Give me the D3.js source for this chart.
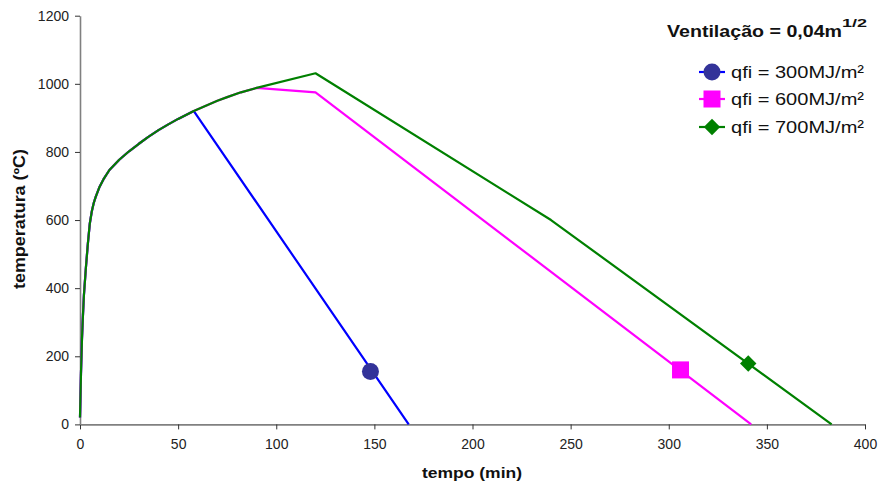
<!DOCTYPE html>
<html><head><meta charset="utf-8">
<script src="https://cdn.jsdelivr.net/npm/d3@7"></script>
<style>
body{margin:0;background:#fff;}
text{font-family:Arial,"Liberation Sans",sans-serif;}
</style></head>
<body><svg id="c" width="879" height="489"></svg>
<script>
// heating phase (shared by all series)
const heatTime = [0,0.5,1,1.5,2,3,4,5,6,7,8,10,12,15,20,25,30,35,40,45,50,58,65,70,75,82,90];
const heatTemp = [20,150,250,320,380,460,530,590,625,650,668,698,720,747,777,802,824,845,864,881,897,920,938,950,961,975,988];
// cooling phases
const blueTime = [167.5];          const blueTemp = [0];
const magentaTime = [120, 342];    const magentaTemp = [975, 0];
const greenTime = [120, 240, 383]; const greenTemp = [1031, 600, 0];
const branchAt = [58, 90, 90];
// marker points
const markerTime = [148, 306, 340.5];
const markerTemp = [155, 160, 179];
const seriesNames = ["qfi = 300MJ/m²","qfi = 600MJ/m²","qfi = 700MJ/m²"];
const xTicks = [0,50,100,150,200,250,300,350,400];
const yTicks = [0,200,400,600,800,1000,1200];

const lineColors = ["#0000FF","#FF00FF","#008000"];
const markColors = ["#333399","#FF00FF","#008000"];

const svg = d3.select("#c");
const x = d3.scaleLinear().domain([0,400]).range([80,865]);
const y = d3.scaleLinear().domain([0,1200]).range([424.4,15.7]);

function build(bt, tt, tv){
  const pts = [];
  heatTime.forEach((t,i)=>{ if(t<=bt) pts.push([t,heatTemp[i]]); });
  tt.forEach((t,i)=>pts.push([t,tv[i]]));
  return pts;
}
const series = [
  build(branchAt[0], blueTime, blueTemp),
  build(branchAt[1], magentaTime, magentaTemp),
  build(branchAt[2], greenTime, greenTemp)
];

function marker(g, i, cx, cy){
  if(i===0) g.append("circle").attr("cx",cx).attr("cy",cy).attr("r",8.5).attr("fill",markColors[i]);
  else if(i===1) g.append("rect").attr("x",cx-8.5).attr("y",cy-8.5).attr("width",17).attr("height",17).attr("fill",markColors[i]);
  else g.append("rect").attr("x",-5.8).attr("y",-5.8).attr("width",11.6).attr("height",11.6)
        .attr("transform",`translate(${cx},${cy}) rotate(45)`).attr("fill",markColors[i]);
}

// axes
const axisColor = "#808080";
const gx = svg.append("g").attr("transform",`translate(0,${y(0)})`)
  .call(d3.axisBottom(x).tickValues(xTicks).tickFormat(d3.format("d")).tickSize(5).tickSizeOuter(0).tickPadding(10));
const gy = svg.append("g").attr("transform",`translate(${x(0)},0)`)
  .call(d3.axisLeft(y).tickValues(yTicks).tickFormat(d3.format("d")).tickSize(5).tickSizeOuter(0).tickPadding(6));
[gx,gy].forEach(g=>{
  g.select(".domain").attr("stroke",axisColor).attr("stroke-width",1.6);
  g.selectAll(".tick line").attr("stroke","#333").attr("stroke-width",1);
  g.selectAll(".tick text").attr("font-size",14).attr("fill","#222")
   .attr("font-family","Arial, 'Liberation Sans', sans-serif");
});

const line = d3.line().x(d=>x(d[0])).y(d=>y(d[1]));
series.forEach((s,i)=>{
  svg.append("path").attr("d",line(s)).attr("fill","none")
    .attr("stroke",lineColors[i]).attr("stroke-width",2.2).attr("stroke-linejoin","round");
});
markerTime.forEach((t,i)=>marker(svg, i, x(t), y(markerTemp[i])));

// axis titles
svg.append("text").attr("x",472).attr("y",478).attr("text-anchor","middle")
  .attr("font-size",15.5).attr("font-weight","bold").attr("fill","#111")
  .attr("textLength",100).attr("lengthAdjust","spacingAndGlyphs").text("tempo (min)");
svg.append("text").attr("transform","translate(25,219) rotate(-90)").attr("text-anchor","middle")
  .attr("font-size",16).attr("font-weight","bold").attr("fill","#111")
  .attr("textLength",140).attr("lengthAdjust","spacingAndGlyphs").text("temperatura (ºC)");

// legend
const title = svg.append("text").attr("x",667).attr("y",37).attr("font-size",17)
  .attr("font-weight","bold").attr("fill","#111");
title.append("tspan").attr("textLength",175).attr("lengthAdjust","spacingAndGlyphs").text("Ventilação = 0,04m");
title.append("tspan").attr("font-size",11.5).attr("dy",-10).attr("textLength",25)
  .attr("lengthAdjust","spacingAndGlyphs").text("1/2");

const legRows = [72, 99, 127];
seriesNames.forEach((n,i)=>{
  const g = svg.append("g").attr("transform",`translate(0,${legRows[i]})`);
  g.append("line").attr("x1",699).attr("x2",725).attr("stroke",lineColors[i]).attr("stroke-width",2.2);
  marker(g, i, 712, 0);
  g.append("text").attr("x",731).attr("y",6).attr("font-size",17).attr("fill","#111")
    .attr("textLength",133).attr("lengthAdjust","spacingAndGlyphs").text(n);
});
</script></body></html>
